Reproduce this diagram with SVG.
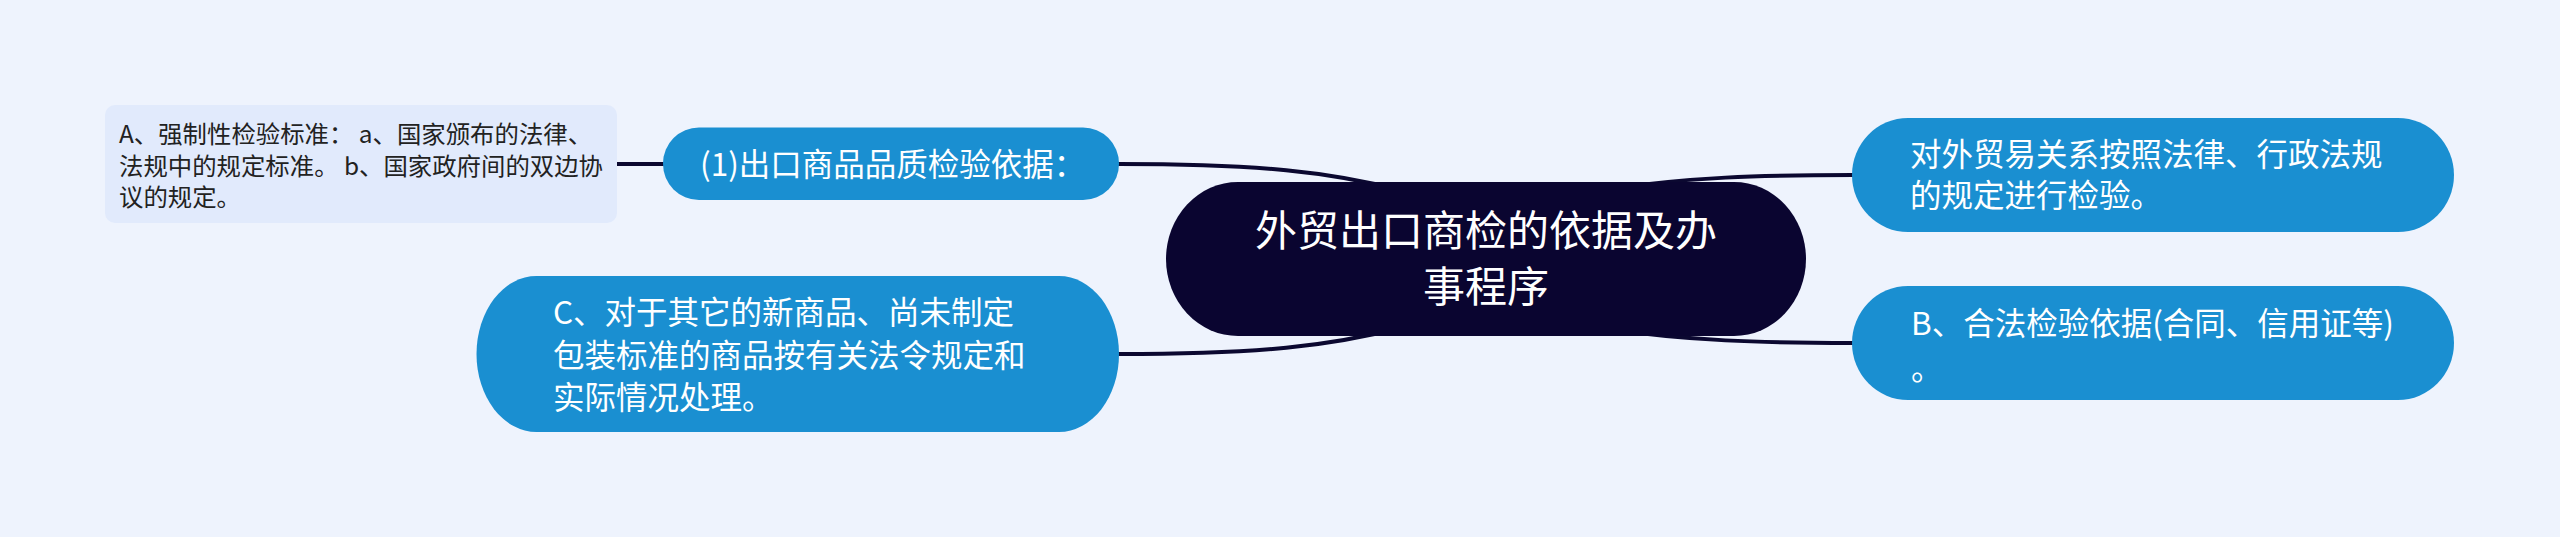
<svg xmlns="http://www.w3.org/2000/svg" width="2560" height="537" viewBox="0 0 2560 537">
<style>
.bg{fill:#eef3fd}
.conn{fill:none;stroke:#0b0830;stroke-width:4;stroke-linecap:round}
.leaf{fill:#1a8fd1}
.root{fill:#0a0530}
.sub{fill:#e1eafc}
.t{font-family:"Noto Sans CJK SC","Noto Sans",sans-serif}
.tw{fill:#ffffff;font-size:31.5px}
.tr{fill:#ffffff;font-size:42px}
.td{fill:#222222;font-size:24.4px}
</style>
<rect class="bg" x="0" y="0" width="2560" height="537"/>
<g id="connectors">
<path class="conn" d="M617,164 L663,164"/>
<path class="conn" d="M1119,164 C1260,164 1330,172 1400,190"/>
<path class="conn" d="M1119,354 C1260,354 1330,346 1400,328"/>
<path class="conn" d="M1853,175 C1760,175 1690,177 1600,190"/>
<path class="conn" d="M1853,343 C1760,343 1690,341 1600,328"/>
</g>
<g id="node-root">
<rect class="root" x="1166" y="182" width="640" height="154" rx="72" ry="77"/>
<text class="t tr" x="1486" y="246" text-anchor="middle">外贸出口商检的依据及办</text>
<text class="t tr" x="1486" y="302" text-anchor="middle">事程序</text>
</g>
<g id="node-1">
<rect class="leaf" x="663" y="127.5" width="456" height="72.5" rx="36" ry="36"/>
<text class="t tw" x="700" y="176">(1)出口商品品质检验依据：</text>
</g>
<g id="node-A">
<rect class="sub" x="105" y="105" width="512" height="118" rx="10" ry="10"/>
<text class="t td" x="119" y="143">A、强制性检验标准：  a、国家颁布的法律、</text>
<text class="t td" x="119" y="174.5">法规中的规定标准。 b、国家政府间的双边协</text>
<text class="t td" x="119" y="205.5">议的规定。</text>
</g>
<g id="node-C">
<rect class="leaf" x="476.5" y="276" width="642.5" height="156" rx="60" ry="78"/>
<text class="t tw" x="553" y="324">C、对于其它的新商品、尚未制定</text>
<text class="t tw" x="553" y="366.5">包装标准的商品按有关法令规定和</text>
<text class="t tw" x="553" y="409">实际情况处理。</text>
</g>
<g id="node-R1">
<rect class="leaf" x="1852" y="118" width="602" height="114" rx="56" ry="57"/>
<text class="t tw" x="1910" y="166">对外贸易关系按照法律、行政法规</text>
<text class="t tw" x="1910" y="207">的规定进行检验。</text>
</g>
<g id="node-B">
<rect class="leaf" x="1852" y="286" width="602" height="114" rx="56" ry="57"/>
<text class="t tw" x="1911" y="334.5">B、合法检验依据(合同、信用证等)</text>
<text class="t tw" x="1911" y="380">。</text>
</g>
</svg>
